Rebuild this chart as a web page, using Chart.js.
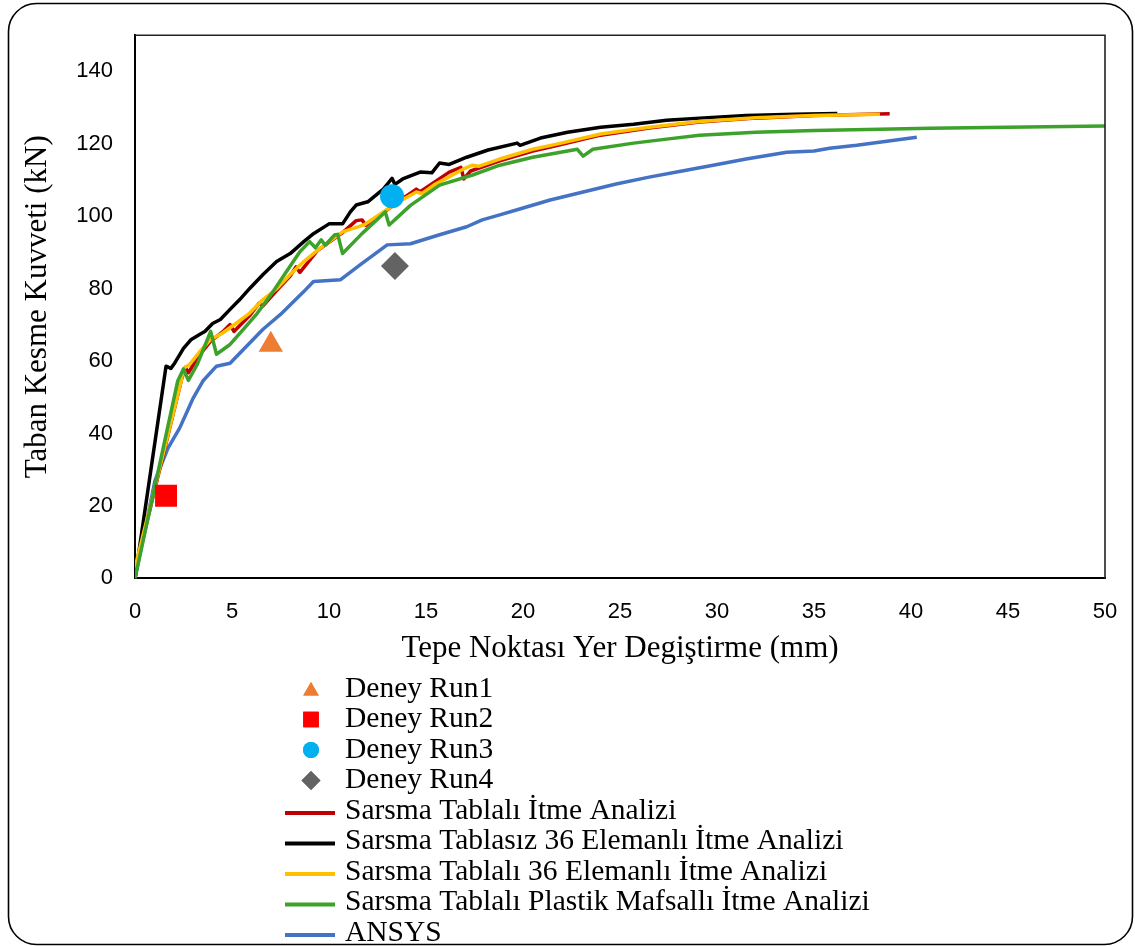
<!DOCTYPE html>
<html>
<head>
<meta charset="utf-8">
<script src="https://cdn.jsdelivr.net/npm/chart.js@4.4.1/dist/chart.umd.min.js"></script>
<style>
  html, body { margin: 0; padding: 0; background: #fff; }
  canvas { display: block; }
</style>
</head>
<body>
<canvas id="chart" width="1135" height="946" style="width:1135px;height:946px"></canvas>
<script>
// Tick values
const xTickValues = [0, 5, 10, 15, 20, 25, 30, 35, 40, 45, 50];
const yTickValues = [0, 20, 40, 60, 80, 100, 120, 140];

// Series names (legend order)
const seriesNames = [
  'Deney Run1',
  'Deney Run2',
  'Deney Run3',
  'Deney Run4',
  'Sarsma Tablalı İtme Analizi',
  'Sarsma Tablasız 36 Elemanlı İtme Analizi',
  'Sarsma Tablalı 36 Elemanlı İtme Analizi',
  'Sarsma Tablalı Plastik Mafsallı İtme Analizi',
  'ANSYS'
];

// Test results (displacement mm, base shear kN)
const runX = [7.0, 1.6, 13.25, 13.4];
const runY = [64.5, 22.8, 105.5, 86.3];

// Sarsma Tablalı İtme Analizi
const redX = [0, 2.4, 2.6, 2.75, 3.3, 3.9, 4.5, 4.9, 5.1, 5.9, 6.4, 6.6, 7.3, 8.0, 8.3, 8.5, 9.4, 10.7, 11.4, 11.7, 11.9, 12.8, 13.7, 14.5, 14.7, 16.2, 16.8, 16.95, 17.3, 18.8, 20.5, 21.8, 24.0, 26.5, 29.1, 32.0, 35.0, 38.9];
const redY = [2, 55, 58.3, 56.8, 61.5, 65.5, 68, 70.1, 68.2, 72.5, 76, 75.3, 79.5, 83.5, 86, 84.5, 90.5, 95.5, 98.8, 99.0, 97.5, 101, 104.5, 107.5, 106.8, 112.2, 113.5, 110.3, 112.5, 115.3, 118, 119.6, 122.4, 124.4, 126.0, 127.1, 127.8, 128.3];

// Sarsma Tablasız 36 Elemanlı İtme Analizi
const blackX = [0, 1.6, 1.85, 2.05, 2.5, 2.9, 3.35, 3.6, 4.0, 4.4, 4.9, 5.4, 5.9, 6.6, 7.3, 8.0, 8.7, 9.2, 10.0, 10.7, 11.1, 11.4, 12.0, 12.5, 12.8, 13.25, 13.4, 13.8, 14.7, 15.3, 15.7, 16.2, 17.1, 18.2, 19.7, 19.85, 20.9, 22.3, 24.0, 25.7, 27.4, 29.1, 31.5, 34.0, 36.2];
const blackY = [0, 58.6, 58.0, 59.5, 63.5, 66.0, 67.4, 68.2, 70.4, 71.5, 74.3, 77.0, 80.0, 83.9, 87.5, 89.7, 93.0, 95.2, 97.9, 97.9, 101.2, 103.1, 104.0, 106.2, 107.5, 110.5, 108.8, 110.3, 112.2, 112.0, 114.7, 114.3, 116.3, 118.3, 120.2, 119.6, 121.6, 123.2, 124.6, 125.4, 126.5, 127.1, 127.8, 128.2, 128.4];

// Sarsma Tablalı 36 Elemanlı İtme Analizi
const yellowX = [0, 2.4, 2.5, 2.8, 3.35, 3.9, 4.5, 5.2, 5.9, 6.6, 7.3, 8.0, 8.7, 9.5, 10.7, 11.8, 12.8, 13.7, 14.5, 14.8, 15.4, 16.9, 17.4, 17.7, 18.8, 20.5, 21.8, 24.0, 26.5, 29.1, 32.0, 35.0, 38.4];
const yellowY = [3, 55, 58, 59, 62.7, 66, 67.7, 70.4, 73.2, 77, 80, 83.9, 87.5, 91, 95.7, 97.6, 101.2, 104.3, 106.7, 106.3, 108.6, 113, 114.1, 113.8, 115.8, 118.5, 120, 122.7, 124.6, 126.2, 127.2, 127.8, 128.2];

// Sarsma Tablalı Plastik Mafsallı İtme Analizi
const greenX = [0, 2.2, 2.5, 2.75, 3.2, 3.9, 4.2, 4.9, 5.8, 6.3, 7.0, 7.8, 8.5, 9.0, 9.3, 9.6, 9.8, 10.3, 10.45, 10.7, 11.7, 12.9, 13.1, 14.2, 15.7, 17.4, 18.8, 20.5, 22.8, 23.1, 23.6, 25.7, 27.4, 29.1, 32.0, 35.0, 38.4, 41.0, 45.0, 50.0];
const greenY = [0, 54.5, 57.8, 54.7, 59, 68.2, 61.9, 64.6, 70.1, 73.2, 78.3, 84.7, 90.2, 93.0, 91.3, 93.5, 92.0, 94.9, 95.0, 89.7, 95.2, 101.2, 97.6, 103, 108.6, 111.4, 114.1, 116.3, 118.5, 116.6, 118.5, 120.2, 121.3, 122.4, 123.2, 123.7, 124.0, 124.3, 124.6, 124.9];

// ANSYS
const blueX = [0, 1.03, 1.7, 2.3, 2.7, 3.0, 3.5, 4.2, 4.9, 5.6, 6.6, 7.5, 8.7, 9.2, 10.6, 11.6, 13.0, 14.2, 15.7, 17.1, 17.9, 18.8, 19.7, 21.4, 23.1, 24.8, 26.5, 28.2, 29.8, 31.5, 33.6, 35.0, 35.8, 37.2, 40.3];
const blueY = [0, 27, 36, 41.5, 46.2, 49.8, 54.5, 58.6, 59.4, 63.3, 68.8, 72.9, 79.2, 82, 82.5, 86.6, 92.1, 92.4, 94.9, 97.1, 99, 100.4, 101.8, 104.5, 106.7, 108.9, 110.8, 112.5, 114.1, 115.8, 117.7, 118, 118.8, 119.6, 121.8];

const pairs = (xs, ys) => xs.map((x, i) => ({ x, y: ys[i] }));

const markerStyles = [
  { style: 'triangle', color: '#ED7D31', radius: 14, legendRadius: 9 },
  { style: 'rect',     color: '#FF0000', radius: 15.5, legendRadius: 11 },
  { style: 'circle',   color: '#00B0F0', radius: 12, legendRadius: 8 },
  { style: 'rectRot',  color: '#636363', radius: 14, legendRadius: 9.5 }
];
const lineStyles = [
  { color: '#C00000', xs: redX, ys: redY, order: 3 },
  { color: '#000000', xs: blackX, ys: blackY, order: 4 },
  { color: '#FFC000', xs: yellowX, ys: yellowY, order: 2 },
  { color: '#3DA22B', xs: greenX, ys: greenY, order: 1 },
  { color: '#4472C4', xs: blueX, ys: blueY, order: 5 }
];

const datasets = [];
markerStyles.forEach((m, i) => {
  datasets.push({
    label: seriesNames[i],
    data: [{ x: runX[i], y: runY[i] }],
    showLine: false,
    pointStyle: m.style,
    pointRadius: m.radius,
    pointHoverRadius: m.radius,
    pointBackgroundColor: m.color,
    pointBorderColor: m.color,
    pointBorderWidth: 0,
    order: 0
  });
});
lineStyles.forEach((l, i) => {
  datasets.push({
    label: seriesNames[4 + i],
    data: pairs(l.xs, l.ys),
    showLine: true,
    borderColor: l.color,
    backgroundColor: l.color,
    borderWidth: 3.5,
    borderJoinStyle: 'round',
    pointRadius: 0,
    pointHoverRadius: 0,
    tension: 0,
    order: l.order
  });
});

const TICK_FONT = { family: '"Liberation Sans", Arial, sans-serif', size: 22 };
const TITLE_FONT = { family: '"Liberation Serif", "Times New Roman", serif', size: 31 };
const LEGEND_FONT = '29.5px "Liberation Serif", "Times New Roman", serif';

// Page background, rounded outer frame, plot frame and the legend list
const decor = {
  id: 'decor',
  beforeDraw(chart) {
    const ctx = chart.ctx;
    ctx.save();
    ctx.fillStyle = '#ffffff';
    ctx.fillRect(0, 0, chart.width, chart.height);
    ctx.beginPath();
    ctx.roundRect(8.5, 3.5, 1124, 941, 28);
    ctx.lineWidth = 1.6;
    ctx.strokeStyle = '#000000';
    ctx.stroke();
    ctx.restore();
  },
  afterDatasetsDraw(chart) {
    const { ctx, chartArea: a } = chart;
    ctx.save();
    ctx.strokeStyle = '#222222';
    ctx.lineWidth = 1.6;
    ctx.beginPath();
    ctx.moveTo(a.left, a.top);
    ctx.lineTo(a.right, a.top);
    ctx.lineTo(a.right, a.bottom);
    ctx.stroke();
    ctx.restore();
  },
  afterDraw(chart) {
    const ctx = chart.ctx;
    const rowTop = 689, rowStep = 30.5;
    const markX = 311, lineX0 = 285, lineX1 = 335, textX = 345;
    ctx.save();
    ctx.font = LEGEND_FONT;
    ctx.textBaseline = 'middle';
    ctx.textAlign = 'left';
    chart.data.datasets.forEach((ds, i) => {
      const y = rowTop + i * rowStep;
      if (i < markerStyles.length) {
        const m = markerStyles[i];
        ctx.fillStyle = m.color;
        ctx.strokeStyle = m.color;
        Chart.helpers.drawPoint(ctx, {
          pointStyle: m.style,
          radius: m.legendRadius,
          rotation: 0,
          borderWidth: 0
        }, markX, m.style === 'triangle' ? y + 2 : y);
        ctx.fill();
      } else {
        ctx.strokeStyle = ds.borderColor;
        ctx.lineWidth = 4;
        ctx.beginPath();
        ctx.moveTo(lineX0, y + 2);
        ctx.lineTo(lineX1, y + 2);
        ctx.stroke();
      }
      ctx.fillStyle = '#000000';
      ctx.fillText(ds.label, textX, y);
    });
    ctx.restore();
  }
};

new Chart(document.getElementById('chart'), {
  type: 'scatter',
  data: { datasets },
  plugins: [decor],
  options: {
    responsive: false,
    animation: false,
    devicePixelRatio: 1,
    layout: { padding: { left: 0, right: 30, top: 33, bottom: 279 } },
    plugins: {
      legend: { display: false },
      tooltip: { enabled: false }
    },
    scales: {
      x: {
        type: 'linear',
        min: 0,
        max: 50,
        afterBuildTicks(scale) { scale.ticks = xTickValues.map(v => ({ value: v })); },
        afterFit(scale) {
          scale.height = 88.6;
          scale.paddingLeft = 0;
          scale.paddingRight = 0;
        },
        grid: { display: false, drawTicks: false },
        border: { display: true, color: '#000000', width: 2 },
        ticks: { font: TICK_FONT, color: '#000000', padding: 20, maxRotation: 0 },
        title: {
          display: true,
          text: 'Tepe Noktası Yer Degiştirme (mm)',
          font: TITLE_FONT,
          color: '#000000',
          padding: 0
        }
      },
      y: {
        type: 'linear',
        min: 0,
        max: 150,
        afterBuildTicks(scale) { scale.ticks = yTickValues.map(v => ({ value: v })); },
        afterFit(scale) { scale.width = 135; },
        grid: { display: false, drawTicks: false },
        border: { display: true, color: '#000000', width: 2 },
        ticks: { font: TICK_FONT, color: '#000000', padding: 22 },
        title: {
          display: true,
          text: 'Taban Kesme Kuvveti (kN)',
          font: TITLE_FONT,
          color: '#000000',
          padding: { top: 19, bottom: 0 }
        }
      }
    }
  }
});
</script>
</body>
</html>
